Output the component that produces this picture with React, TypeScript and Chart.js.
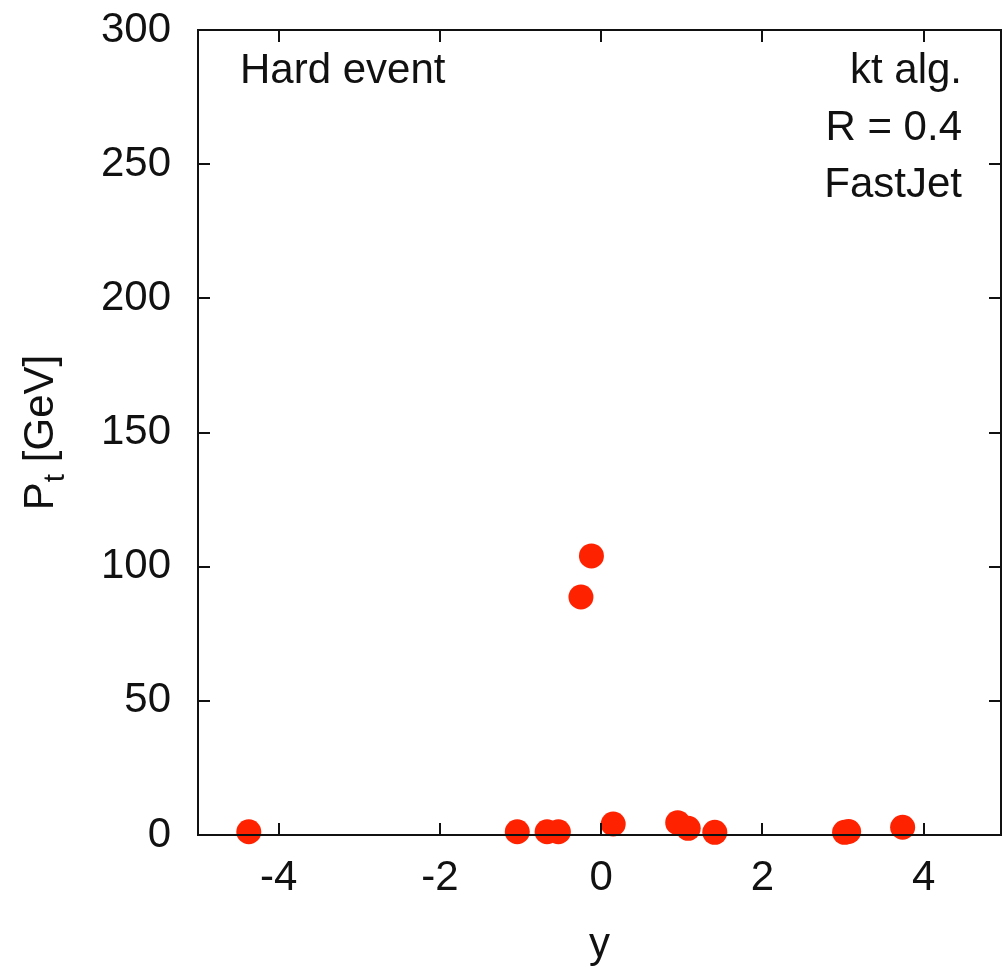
import React, { useEffect, useRef } from "react";
import { Chart, registerables } from "chart.js";

Chart.register(...registerables);

// Jet data: rapidity y and transverse momentum Pt [GeV]
const rapidity = [-4.37, -1.04, -0.67, -0.53, -0.25, -0.12, 0.15, 0.95, 1.08, 1.41, 3.02, 3.07, 3.74];
const ptGeV = [1.2, 1.2, 1.2, 1.2, 88.7, 104, 4.1, 4.6, 2.5, 1.0, 1.0, 1.3, 2.9];

const xTicks = [-4, -2, 0, 2, 4];
const yTicks = [0, 50, 100, 150, 200, 250, 300];
const xRange = [-5, 4.96];
const yRange = [0, 300];

const leftNote = ["Hard event"];
const rightNote = ["kt alg.", "R = 0.4", "FastJet"];
const xTitle = "y";
const yTitleMain = "P";
const yTitleSub = "t";
const yTitleRest = " [GeV]";

const FONT = "'Liberation Sans', Arial, Helvetica, sans-serif";
const INK = "#111";

const framePlugin = {
  id: "gnuplotFrame",
  afterDatasetsDraw(chart: any) {
    const { ctx, chartArea } = chart;
    const { left, right, top, bottom } = chartArea;
    const xs = chart.scales.x;
    const ys = chart.scales.y;
    ctx.save();
    ctx.strokeStyle = INK;
    ctx.lineWidth = 2;
    ctx.strokeRect(left, top, right - left, bottom - top);
    const tl = 12;
    ctx.beginPath();
    xTicks.forEach((v) => {
      const px = Math.round(xs.getPixelForValue(v));
      ctx.moveTo(px, bottom);
      ctx.lineTo(px, bottom - tl);
      ctx.moveTo(px, top);
      ctx.lineTo(px, top + tl);
    });
    yTicks.forEach((v) => {
      const py = Math.round(ys.getPixelForValue(v));
      ctx.moveTo(left, py);
      ctx.lineTo(left + tl, py);
      ctx.moveTo(right, py);
      ctx.lineTo(right - tl, py);
    });
    ctx.stroke();

    // annotations
    ctx.fillStyle = INK;
    ctx.font = `42px ${FONT}`;
    ctx.textBaseline = "alphabetic";
    ctx.textAlign = "left";
    leftNote.forEach((t, i) => ctx.fillText(t, left + 42, top + 53 + i * 57));
    ctx.textAlign = "right";
    rightNote.forEach((t, i) => ctx.fillText(t, right - 39, top + 53 + i * 57));

    // x title
    ctx.textAlign = "center";
    ctx.fillText(xTitle, (left + right) / 2, 957);

    // y title with subscript
    const wP = ctx.measureText(yTitleMain).width;
    ctx.font = `30px ${FONT}`;
    const wT = ctx.measureText(yTitleSub).width;
    ctx.font = `42px ${FONT}`;
    const wR = ctx.measureText(yTitleRest).width;
    const total = wP + wT + wR;
    const cy = (top + bottom) / 2;
    ctx.translate(53, cy + total / 2);
    ctx.rotate(-Math.PI / 2);
    ctx.textAlign = "left";
    ctx.fillText(yTitleMain, 0, 0);
    ctx.font = `30px ${FONT}`;
    ctx.fillText(yTitleSub, wP, 11);
    ctx.font = `42px ${FONT}`;
    ctx.fillText(yTitleRest, wP + wT, 0);
    ctx.restore();
  },
};

export default function App() {
  const ref = useRef<HTMLCanvasElement>(null);
  useEffect(() => {
    if (!ref.current) return;
    const chart = new Chart(ref.current, {
      type: "scatter",
      data: {
        datasets: [
          {
            data: rapidity.map((x, i) => ({ x, y: ptGeV[i] })),
            backgroundColor: "#ff2200",
            borderWidth: 0,
            pointRadius: 12.5,
            pointHoverRadius: 12.5,
            clip: false as any,
          },
        ],
      },
      options: {
        responsive: false,
        animation: false,
        layout: { autoPadding: false, padding: { top: 30, right: 2, left: 0, bottom: 0 } },
        plugins: { legend: { display: false }, tooltip: { enabled: false } },
        scales: {
          x: {
            type: "linear",
            min: xRange[0],
            max: xRange[1],
            grid: { display: false, drawTicks: false },
            border: { display: false },
            afterBuildTicks: (s: any) => {
              s.ticks = xTicks.map((v) => ({ value: v }));
            },
            afterFit: (s: any) => {
              s.height = 142;
              s.paddingLeft = 0;
              s.paddingRight = 0;
            },
            ticks: {
              color: INK,
              padding: 18,
              maxRotation: 0,
              autoSkip: false,
              font: { family: FONT, size: 42 },
            },
          },
          y: {
            type: "linear",
            min: yRange[0],
            max: yRange[1],
            grid: { display: false, drawTicks: false },
            border: { display: false },
            afterBuildTicks: (s: any) => {
              s.ticks = yTicks.map((v) => ({ value: v }));
            },
            afterFit: (s: any) => {
              s.width = 198;
              s.paddingTop = 0;
              s.paddingBottom = 0;
            },
            ticks: {
              color: INK,
              padding: 27,
              autoSkip: false,
              font: { family: FONT, size: 42 },
            },
          },
        },
      },
      plugins: [framePlugin],
    });
    return () => chart.destroy();
  }, []);
  return (
    <div style={{ position: "absolute", left: 0, top: 0, width: 1003, height: 977, background: "#fff" }}>
      <canvas ref={ref} width={1003} height={977} style={{ display: "block" }} />
    </div>
  );
}
